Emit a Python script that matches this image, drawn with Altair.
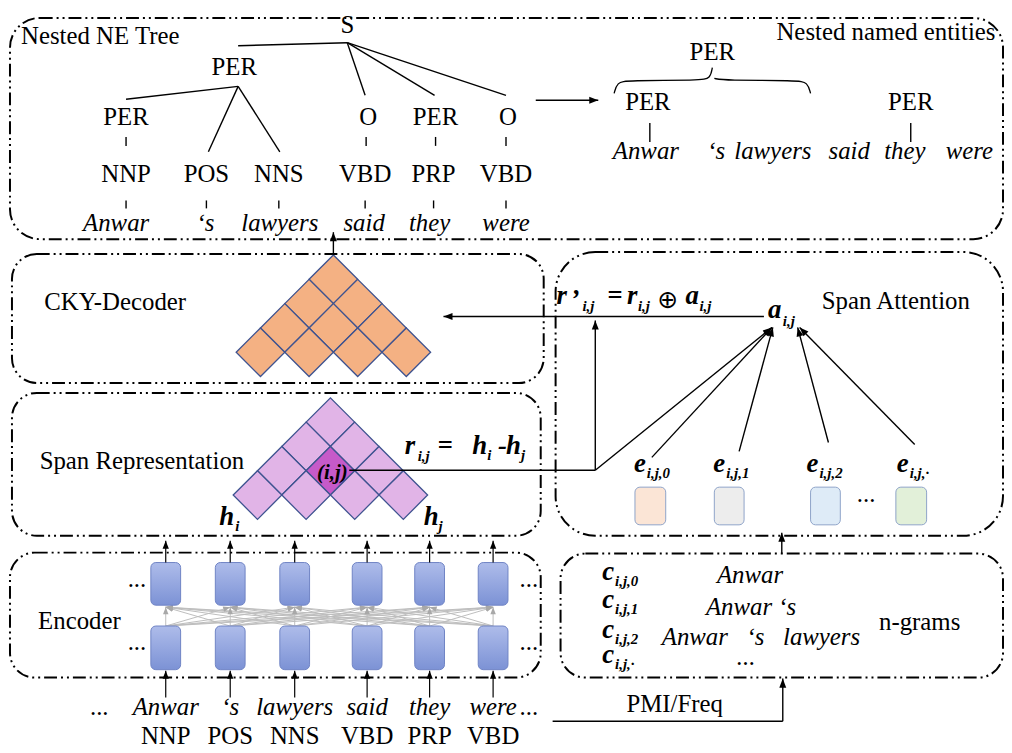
import math
import altair as alt
import pandas as pd

SERIF = "Liberation Serif"
NB = "\u00a0"

# ---------------- data ----------------
# dash-dot boxes: x1, x2, y1, y2, corner radius
box_x1 = [10, 12, 12, 10, 560, 565]
box_x2 = [1011, 548, 545, 545, 1011, 1011]
box_y1 = [15, 253, 393, 554, 251, 555]
box_y2 = [238, 383, 537, 680, 537, 680]
box_r = [30, 25, 25, 25, 40, 25]

# regular labels
lab_t = ["S", "PER", "PER", "O", "PER", "O",
         "NNP", "POS", "NNS", "VBD", "PRP", "VBD",
         "PER", "PER", "PER",
         "Nested NE Tree", "Nested named entities",
         "CKY-Decoder", "Span Representation", "Encoder",
         "Span Attention", "n-grams", "PMI/Freq",
         "NNP", "POS", "NNS", "VBD", "PRP", "VBD",
         "...", "...", "...", "...", "...", "...", "..."]
lab_x = [350, 236, 127, 371, 439, 512,
         127, 208, 281, 368, 437, 510,
         718, 653, 918,
         101, 893,
         116, 143, 80,
         903, 927, 680,
         167, 232, 297, 370, 433, 497,
         138, 138, 533, 533, 100, 533, 873]
lab_y = [30, 73, 123, 123, 123, 123,
         180, 180, 180, 180, 180, 180,
         57, 108, 108,
         41, 37,
         309, 470, 631,
         308, 632, 715,
         747, 747, 747, 747, 747, 747,
         589, 652, 589, 652, 718, 718, 503]

# italic words
wrd_t = ["Anwar", "‘s", "lawyers", "said", "they", "were",
         "Anwar", "‘s", "lawyers", "said", "they", "were",
         "Anwar", "‘s", "lawyers", "said", "they", "were",
         "Anwar", "Anwar ‘s", f"Anwar{NB*3}‘s{NB*3}lawyers", "..."]
wrd_x = [117, 207, 282, 367, 433, 510,
         651, 722, 779, 856, 912, 977,
         167, 232, 297, 370, 433, 497,
         756, 757, 767, 752]
wrd_y = [230, 230, 230, 230, 230, 230,
         157, 157, 157, 157, 157, 157,
         718, 718, 718, 718, 718, 718,
         585, 617, 647, 667]

# bold italic math symbols (left aligned)
mth_t = ["r", "’", "=", "r", "a", "a",
         "r", "=", "h", "-", "h",
         "h", "h",
         "e", "e", "e", "e",
         "c", "c", "c", "c"]
mth_x = [561, 575, 612, 632, 691, 774,
         408, 441, 476, 502, 510,
         221, 427,
         639, 719, 813, 904,
         607, 607, 607, 607]
mth_y = [303, 307, 303, 303, 303, 318,
         455, 455, 455, 455, 455,
         526, 526,
         473, 473, 473, 473,
         582, 610, 640, 665]

# subscripts (left aligned)
sub_t = ["i,j", "i,j", "i,j", "i,j", "i,j", "i", "j", "i", "j",
         "i,j,0", "i,j,1", "i,j,2", "i,j,·",
         "i,j,0", "i,j,1", "i,j,2", "i,j,·"]
sub_x = [587, 643, 705, 789, 421, 491, 525, 237, 442,
         652, 732, 826, 917,
         620, 620, 620, 620]
sub_y = [310, 310, 310, 326, 462, 461, 461, 532, 532,
         479, 479, 479, 479,
         588, 616, 646, 671]

# plain black lines
ln_x1 = [240, 350, 350, 350, 240, 240, 240,
         127, 369, 439, 510,
         127, 208, 281, 368, 437, 510,
         655, 918, 352, 557]
ln_y1 = [43, 40, 40, 40, 84, 84, 84,
         135, 135, 135, 135,
         199, 199, 199, 199, 199, 199,
         121, 121, 471, 724]
ln_x2 = [350, 368, 438, 510, 127, 210, 282,
         127, 369, 439, 510,
         127, 208, 281, 368, 437, 510,
         655, 918, 600, 789]
ln_y2 = [40, 93, 93, 93, 97, 150, 150,
         144, 144, 144, 144,
         207, 207, 207, 207, 207, 207,
         140, 140, 471, 724]

# brace over "Anwar 's lawyers"
br_x = [619, 622, 632, 706, 716, 718, 720, 730, 804, 814, 817]
br_y = [91, 80, 78, 78, 76, 65, 76, 78, 78, 80, 91]
br_part = ["l", "l", "l", "l", "l", "l", "r", "r", "r", "r", "r"]

# encoder columns and rows
col_x = [167, 232, 297, 370, 433, 497]
row_top = [564, 628]
row_bot = [607, 672]

# arrows (start -> tip)
ar_x1 = [540, 336, 770, 600, 600, 657, 745, 835, 922, 788, 789]
ar_y1 = [98, 254, 316, 471, 471, 458, 452, 443, 445, 555, 724]
ar_x2 = [603, 336, 447, 600, 778, 778, 779, 804, 806, 788, 789]
ar_y2 = [98, 231, 316, 320, 327, 327, 327, 327, 327, 534, 681]

# CKY / span triangles: apex, cell diagonal
cky_apex = (336, 254)
span_apex = (333, 398)
cell_d = 49
highlight_cell = (2, 1)  # row, index

# span attention candidate boxes
eb_x1 = [640, 720, 817, 903]
eb_x2 = [671, 750, 847, 934]
eb_fill = ["#FBE5D6", "#EDEDED", "#DEEBF7", "#E2F0D9"]
eb_y = (488, 526)

# ---------------- helpers ----------------
xs = alt.Scale(domain=[8, 1012], nice=False, zero=False)
ys = alt.Scale(domain=[8, 753], reverse=True, nice=False, zero=False)


def X(f="x"):
    return alt.X(f"{f}:Q", scale=xs, axis=None)


def Y(f="y"):
    return alt.Y(f"{f}:Q", scale=ys, axis=None)


def text_layer(t, x, y, size, style="normal", weight="normal", align="center", font=SERIF):
    df = pd.DataFrame({"t": t, "x": x, "y": y})
    return alt.Chart(df).mark_text(
        font=font, fontSize=size, fontStyle=style, fontWeight=weight,
        align=align, baseline="alphabetic", color="black"
    ).encode(x=X(), y=Y(), text="t:N")


def rule_layer(x1, y1, x2, y2, color="black", width=1.4):
    df = pd.DataFrame({"x": x1, "y": y1, "x2": x2, "y2": y2})
    return alt.Chart(df).mark_rule(color=color, strokeWidth=width).encode(
        x=X(), y=Y(), x2="x2:Q", y2="y2:Q")


HEAD = "M0,0L-0.5,1.3L0.5,1.3Z"


def head_layer(x1, y1, x2, y2, color="black", size=196):
    ang = []
    for a, b, c, d in zip(x1, y1, x2, y2):
        th = math.degrees(math.atan2(c - a, -(d - b))) % 360
        ang.append(th)
    df = pd.DataFrame({"x": x2, "y": y2, "ang": ang})
    return alt.Chart(df).mark_point(
        shape=HEAD, filled=True, color=color, opacity=1, size=size, strokeWidth=0
    ).encode(x=X(), y=Y(), angle=alt.Angle("ang:Q", scale=None))


layers = []

# boxes
for r in sorted(set(box_r)):
    idx = [i for i, v in enumerate(box_r) if v == r]
    df = pd.DataFrame({"x": [box_x1[i] for i in idx], "x2": [box_x2[i] for i in idx],
                       "y": [box_y1[i] for i in idx], "y2": [box_y2[i] for i in idx]})
    layers.append(alt.Chart(df).mark_rect(
        cornerRadius=r, fillOpacity=0, stroke="black", strokeWidth=2,
        strokeDash=[13, 4, 2, 4, 2, 4]
    ).encode(x=X(), x2="x2:Q", y=Y(), y2="y2:Q"))


# triangles
def tri_cells(apex, fill, hi=None, hi_fill=None):
    rows = []
    ax, ay = apex
    for k in range(4):
        for i in range(k + 1):
            cx = ax + (i - k / 2) * cell_d
            cy = ay + cell_d / 2 + k * cell_d / 2
            f = hi_fill if hi == (k, i) else fill
            rows.append({"x": cx, "y": cy, "f": f})
    return pd.DataFrame(rows)


for apex, fill, hi, hf in [(cky_apex, "#F4B183", None, None),
                           (span_apex, "#E1B4E7", highlight_cell, "#C65AC9")]:
    df = tri_cells(apex, fill, hi, hf)
    layers.append(alt.Chart(df).mark_point(
        shape="diamond", size=cell_d ** 2, filled=True, opacity=1,
        stroke="#3E5390", strokeWidth=1.3
    ).encode(x=X(), y=Y(), fill=alt.Fill("f:N", scale=None)))

# encoder gray connections
gx1, gy1, gx2, gy2 = [], [], [], []
for a in col_x:
    for b in col_x:
        gx1.append(a); gy1.append(row_top[1]); gx2.append(b); gy2.append(row_bot[0] + 2)
layers.append(rule_layer(gx1, gy1, gx2, gy2, color="#BDBDBD", width=1))
layers.append(head_layer(gx1, gy1, gx2, gy2, color="#A8A8A8", size=120))

# encoder cells
grad = alt.Gradient(gradient="linear", x1=0, x2=0, y1=0, y2=1,
                    stops=[alt.GradientStop(color="#AEBCEA", offset=0),
                           alt.GradientStop(color="#7C92D5", offset=1)])
cells = pd.DataFrame([{"x": c - 15, "x2": c + 15, "y": t, "y2": b}
                      for c in col_x for t, b in zip(row_top, row_bot)])
layers.append(alt.Chart(cells).mark_rect(
    cornerRadius=5, fill=grad, stroke="#6F84C4", strokeWidth=1
).encode(x=X(), x2="x2:Q", y=Y(), y2="y2:Q"))

# encoder vertical arrows (top outputs and word inputs)
vx1 = col_x + col_x
vy1 = [row_top[0]] * 6 + [700] * 6
vx2 = col_x + col_x
vy2 = [542] * 6 + [row_bot[1] + 1] * 6
layers.append(rule_layer(vx1, vy1, vx2, vy2, width=1.2))
layers.append(head_layer(vx1, vy1, vx2, vy2, size=160))

# candidate boxes
ebdf = pd.DataFrame({"x": eb_x1, "x2": eb_x2, "y": [eb_y[0]] * 4, "y2": [eb_y[1]] * 4,
                     "f": eb_fill})
layers.append(alt.Chart(ebdf).mark_rect(
    cornerRadius=5, stroke="#8EA3C8", strokeWidth=1
).encode(x=X(), x2="x2:Q", y=Y(), y2="y2:Q", fill=alt.Fill("f:N", scale=None)))

# plain lines and arrows
layers.append(rule_layer(ln_x1, ln_y1, ln_x2, ln_y2))
layers.append(rule_layer(ar_x1, ar_y1, ar_x2, ar_y2))
layers.append(head_layer(ar_x1, ar_y1, ar_x2, ar_y2))

# brace
brdf = pd.DataFrame({"x": br_x, "y": br_y, "p": br_part, "o": list(range(len(br_x)))})
layers.append(alt.Chart(brdf).mark_line(
    color="black", strokeWidth=1.3, interpolate="basis"
).encode(x=X(), y=Y(), detail="p:N", order="o:Q"))

# texts
layers.append(text_layer(lab_t, lab_x, lab_y, 25))
layers.append(text_layer(wrd_t, wrd_x, wrd_y, 25, style="italic"))
layers.append(text_layer(mth_t, mth_x, mth_y, 27, style="italic", weight="bold", align="left"))
layers.append(text_layer(sub_t, sub_x, sub_y, 15, style="italic", weight="bold", align="left"))
layers.append(text_layer(["(i,j)"], [335], [480], 21, style="italic", weight="bold"))
oplus = pd.DataFrame({"t": ["⊕"], "x": [673], "y": [299]})
layers.append(alt.Chart(oplus).mark_text(
    font="DejaVu Sans", fontSize=25, baseline="middle", align="center", color="black"
).encode(x=X(), y=Y(), text="t:N"))

chart = alt.layer(*layers).properties(
    width=1004, height=745, padding=0,
    autosize=alt.AutoSizeParams(type="none"),
    background="white",
).configure_view(stroke="transparent")

chart.save("out.html", embed_options={"renderer": "svg", "actions": False})
